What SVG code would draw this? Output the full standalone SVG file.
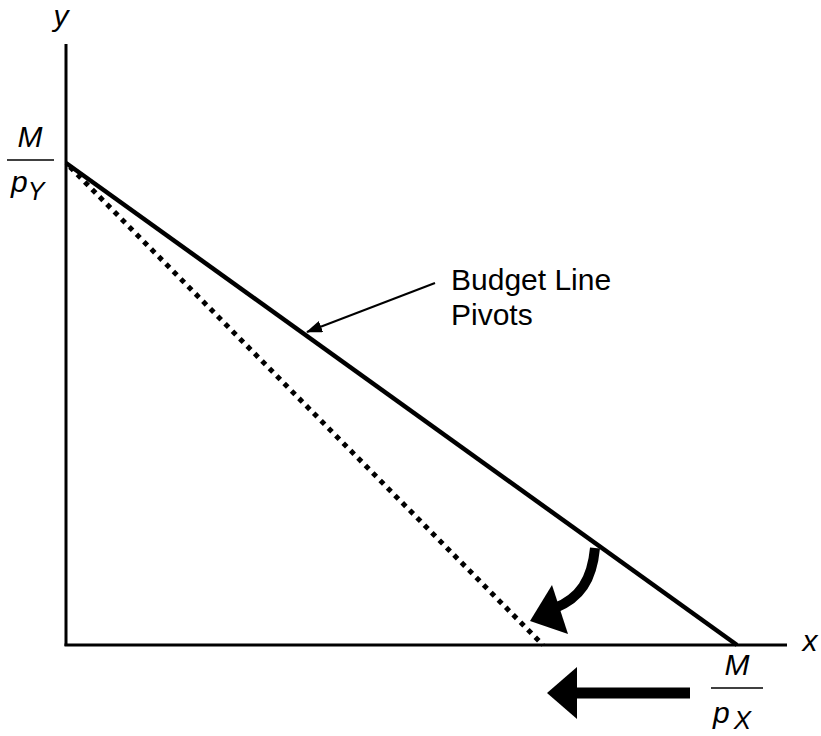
<svg xmlns="http://www.w3.org/2000/svg" width="821" height="736" viewBox="0 0 821 736">
<style>
.t{font-family:"Liberation Sans",Arial,sans-serif;fill:#000}
.i{font-style:italic}
.ax{stroke:#000;stroke-width:3;fill:none}
</style>
<defs>
<marker id="ah" markerWidth="16" markerHeight="12" refX="15" refY="6" orient="auto" markerUnits="userSpaceOnUse" viewBox="0 0 16 12">
<path d="M0,0 L16,6 L0,12 Z" fill="#000"/>
</marker>
</defs>
<g id="axes">
<line class="ax" x1="66" y1="44" x2="66" y2="646"/>
<line class="ax" x1="64.5" y1="645" x2="787" y2="645"/>
<text class="t i" x="61" y="26" font-size="30" text-anchor="middle">y</text>
<text class="t i" x="810" y="651" font-size="30" text-anchor="middle">x</text>
</g>
<g id="label-my">
<text class="t i" x="30" y="147" font-size="30" text-anchor="middle">M</text>
<line x1="7" y1="160" x2="54" y2="160" stroke="#000" stroke-width="1.5"/>
<text class="t i" x="11" y="192" font-size="30">p<tspan font-size="25" dy="8">Y</tspan></text>
</g>
<g id="label-mx">
<text class="t i" x="737" y="675" font-size="30" text-anchor="middle">M</text>
<line x1="711" y1="688" x2="763" y2="688" stroke="#000" stroke-width="1.5"/>
<text class="t i" x="713" y="723" font-size="30">p<tspan font-size="26" dx="4" dy="6">X</tspan></text>
</g>
<g id="budget-line">
<line x1="66" y1="163" x2="737" y2="645" stroke="#000" stroke-width="4.5"/>
</g>
<g id="new-budget-line">
<line x1="70" y1="167" x2="543" y2="645" stroke="#000" stroke-width="5" stroke-dasharray="5 5.5"/>
</g>
<g id="label-pivots">
<text class="t" x="451" y="290" font-size="30">Budget Line</text>
<text class="t" x="451" y="325" font-size="30">Pivots</text>
</g>
<g id="connectors">
<line x1="435" y1="283" x2="307" y2="332" stroke="#000" stroke-width="2" marker-end="url(#ah)"/>
<path d="M595,548 C592,580 580,598 555,608" stroke="#000" stroke-width="10" fill="none"/>
<path d="M552,585 L568,634 L530,621 Z" fill="#000"/>
<line x1="690" y1="693" x2="575" y2="693" stroke="#000" stroke-width="11"/>
<path d="M577,667 L577,719 L547,693 Z" fill="#000"/>
</g>
</svg>
